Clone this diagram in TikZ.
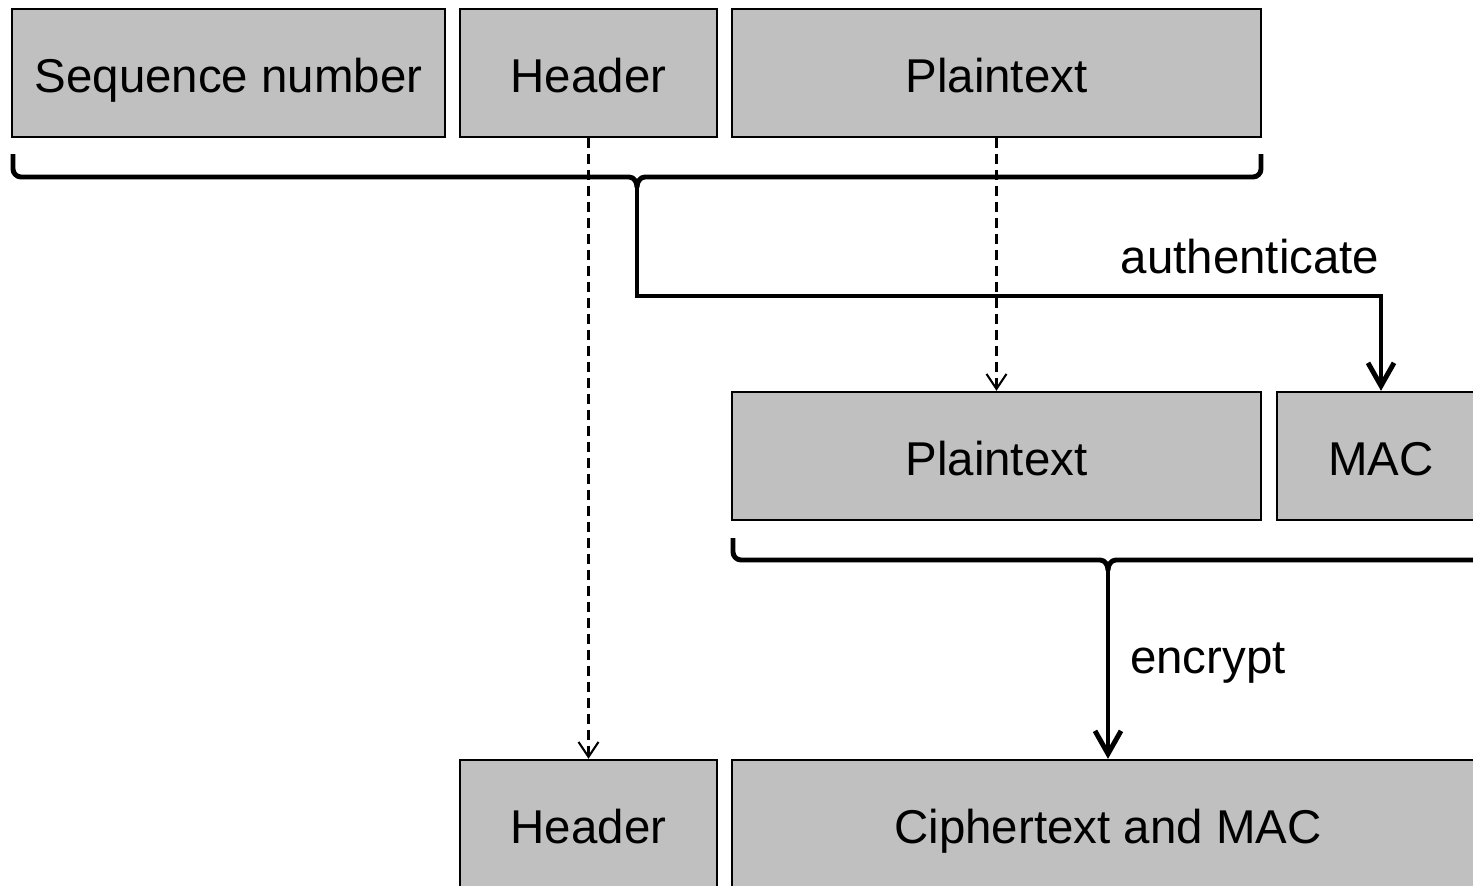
\documentclass[tikz,border=0pt]{standalone}
\usepackage{fontspec}
\setmainfont{Liberation Sans}
\usepackage{tikz}
\usetikzlibrary{arrows.meta,positioning,calc}
\definecolor{fieldgray}{HTML}{C0C0C0}
\tikzset{
  fieldBox/.style={draw=black, fill=fieldgray, line width=1.3pt, minimum height=2.56cm, inner sep=0pt,
    text height=0.96cm, text depth=0.2cm, font=\fontsize{27}{32}\selectfont},
  braceLine/.style={line width=2.8pt, line join=round},
  flowArrow/.style={-{Straight Barb[length=0.46cm, width=0.52cm]}, line width=2.8pt},
  copyArrow/.style={-{Straight Barb[length=0.3cm, width=0.4cm]}, line width=1.2pt, dash pattern=on 0.2cm off 0.12cm},
  stepLabel/.style={font=\fontsize{27}{32}\selectfont}
}

\begin{document}
\begin{tikzpicture}[x=1cm,y=1cm]
  \useasboundingbox (0,0) rectangle (29.46,-17.72);
  \clip (0,0) rectangle (29.46,-17.72);
  % record fields
  \node[fieldBox, minimum width=8.66cm] (seqNum) at (4.57,-1.46) {Sequence number};
  \node[fieldBox, minimum width=5.14cm] (hdrIn) at (11.77,-1.46) {Header};
  \node[fieldBox, minimum width=10.58cm] (ptIn) at (19.93,-1.46) {Plaintext};
  \node[fieldBox, minimum width=10.58cm] (ptMid) at (19.93,-9.12) {Plaintext};
  \node[fieldBox, minimum width=4.16cm] (macMid) at (27.62,-9.12) {MAC};
  \node[fieldBox, minimum width=5.14cm] (hdrOut) at (11.77,-16.48) {Header};
  \node[fieldBox, minimum width=15.04cm] (ctOut) at (22.16,-16.48) {Ciphertext and MAC};
  % braces
  \draw[braceLine] (0.26,-3.08) -- (0.26,-3.38) to[out=-90,in=180] (0.42,-3.54) -- (12.58,-3.54)
    to[out=0,in=90] (12.74,-3.74) to[out=90,in=180] (12.90,-3.54) -- (25.06,-3.54)
    to[out=0,in=-90] (25.22,-3.38) -- (25.22,-3.08);
  \coordinate (authTip) at (12.74,-3.74);
  \coordinate (authBend) at (12.74,-5.92);
  \draw[braceLine] (14.66,-10.76) -- (14.66,-11.04) to[out=-90,in=180] (14.82,-11.20) -- (22.00,-11.20)
    to[out=0,in=90] (22.16,-11.40) to[out=90,in=180] (22.32,-11.20) -- (29.50,-11.20)
    to[out=0,in=-90] (29.66,-11.04) -- (29.66,-10.76);
  \coordinate (encTip) at (22.16,-11.40);
  % connectors
  \draw[flowArrow] (authTip) -- (authBend) -| (macMid.north);
  \draw[flowArrow] (encTip) -- (ctOut.north);
  \draw[copyArrow] (hdrIn.south) -- (hdrOut.north);
  \draw[copyArrow] (ptIn.south) -- (ptMid.north);
  \node[stepLabel] (authLbl) at (25.0,-5.14) {authenticate};
  \node[stepLabel, anchor=base] (encLbl) at (24.16,-13.46) {encrypt};
\end{tikzpicture}
\end{document}
